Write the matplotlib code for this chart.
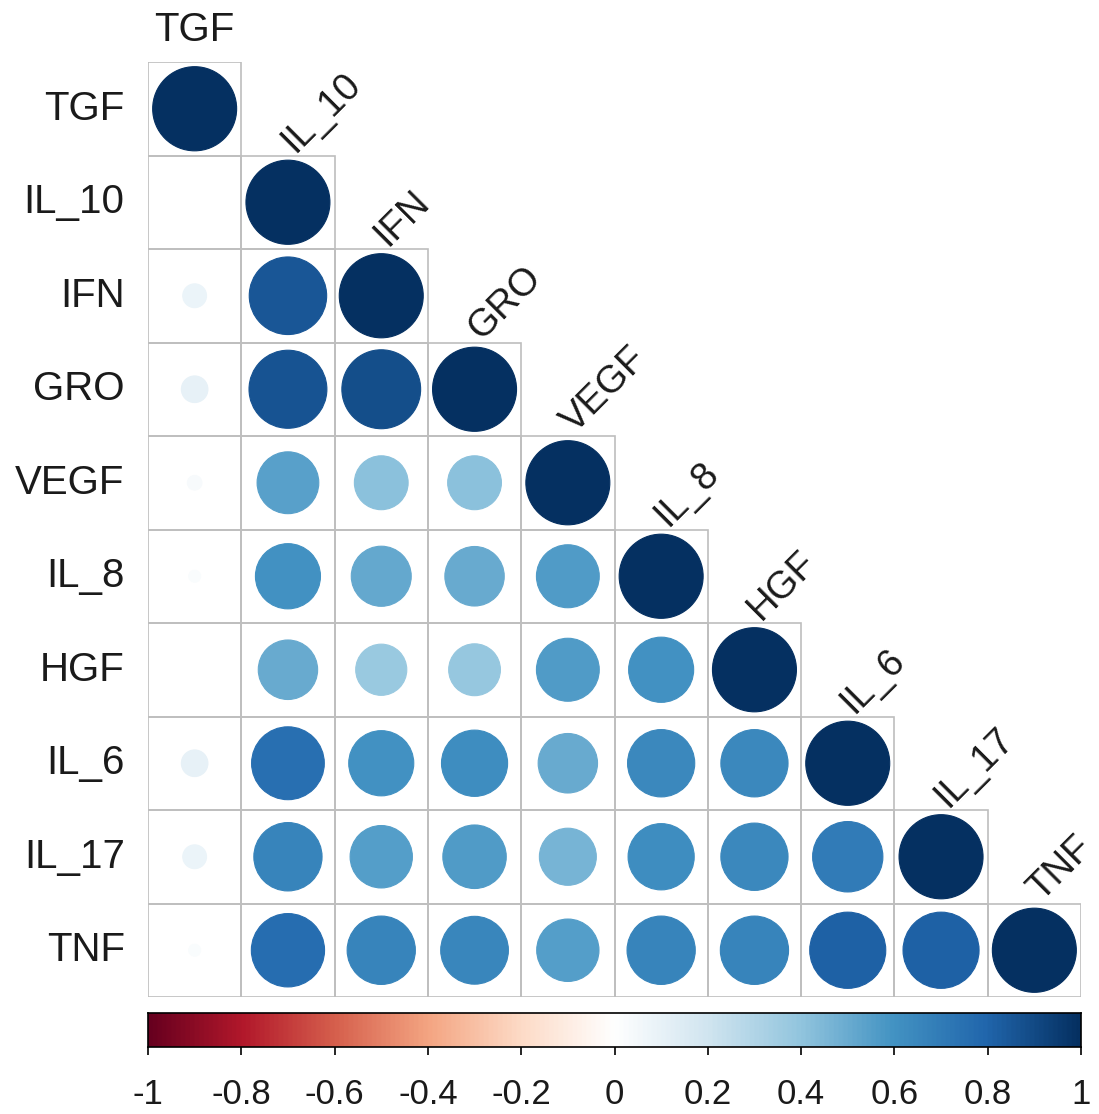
import numpy as np
import matplotlib
matplotlib.use("Agg")
import matplotlib.pyplot as plt
from matplotlib.colors import LinearSegmentedColormap
from matplotlib.patches import Ellipse, Rectangle

plt.rcParams['font.family'] = ['Liberation Sans', 'DejaVu Sans']

# Variables (same order for rows and columns)
names = ["TGF", "IL_10", "IFN", "GRO", "VEGF", "IL_8", "HGF", "IL_6", "IL_17", "TNF"]

# Lower-triangle correlation coefficients, row by row (diagonal included)
r_TGF   = [1.00]
r_IL_10 = [0.00, 1.00]
r_IFN   = [0.08, 0.85, 1.00]
r_GRO   = [0.10, 0.86, 0.88, 1.00]
r_VEGF  = [0.03, 0.54, 0.41, 0.41, 1.00]
r_IL_8  = [0.02, 0.60, 0.51, 0.50, 0.56, 1.00]
r_HGF   = [0.00, 0.50, 0.37, 0.38, 0.56, 0.60, 1.00]
r_IL_6  = [0.10, 0.75, 0.60, 0.62, 0.50, 0.64, 0.64, 1.00]
r_IL_17 = [0.08, 0.66, 0.55, 0.57, 0.46, 0.62, 0.64, 0.70, 1.00]
r_TNF   = [0.02, 0.76, 0.66, 0.65, 0.55, 0.66, 0.66, 0.82, 0.82, 1.00]
rows = [r_TGF, r_IL_10, r_IFN, r_GRO, r_VEGF, r_IL_8, r_HGF, r_IL_6, r_IL_17, r_TNF]

cbar_ticks = [-1, -0.8, -0.6, -0.4, -0.2, 0, 0.2, 0.4, 0.6, 0.8, 1]
cbar_labels = ["-1", "-0.8", "-0.6", "-0.4", "-0.2", "0", "0.2", "0.4", "0.6", "0.8", "1"]

# Diverging red-white-blue palette
rdbu = LinearSegmentedColormap.from_list(
    "rdbu_corr",
    ["#67001F", "#B2182B", "#D6604D", "#F4A582", "#FDDBC7", "#FFFFFF",
     "#D1E5F0", "#92C5DE", "#4393C3", "#2166AC", "#053061"], N=200)

W, H = 1099, 1114
fig = plt.figure(figsize=(W / 100, H / 100), dpi=100)
fig.patch.set_facecolor("white")

n = len(names)
gx0, gx1, gy0, gy1 = 148, 1081, 62, 997
ax = fig.add_axes([gx0 / W, 1 - gy1 / H, (gx1 - gx0) / W, (gy1 - gy0) / H])
ax.set_xlim(0, n)
ax.set_ylim(n, 0)
ax.axis("off")

grid_col = "#BEBEBE"
fs = 29
for i, vals in enumerate(rows):
    for j, r in enumerate(vals):
        ax.add_patch(Rectangle((j, i), 1, 1, facecolor="none",
                               edgecolor=grid_col, lw=1.2, zorder=1))
        rad = 0.45 * np.sqrt(abs(r))
        if rad > 0:
            c = rdbu((r + 1) / 2)
            ax.add_patch(Ellipse((j + 0.5, i + 0.5), 2 * rad, 2 * rad,
                                 facecolor=c, edgecolor=c, lw=0.8, zorder=2))

# Row labels
for i, nm in enumerate(names):
    ax.text(-0.25, i + 0.5, nm, ha="right", va="center", fontsize=fs,
            color="#1a1a1a", clip_on=False)

# Column labels
ax.text(0.5, -0.22, names[0], ha="center", va="baseline", fontsize=fs,
        color="#1a1a1a", clip_on=False)
for j in range(1, n):
    ax.text(j + 0.57, j - 0.02, names[j], ha="left", va="baseline",
            rotation=45, rotation_mode="anchor", fontsize=27.5,
            color="#1a1a1a", clip_on=False)

# Colour bar
cax = fig.add_axes([gx0 / W, 1 - 1047 / H, (gx1 - gx0) / W, 34 / H])
grad = np.linspace(-1, 1, 400).reshape(1, -1)
cax.imshow(grad, cmap=rdbu, vmin=-1, vmax=1, aspect="auto",
           extent=[-1, 1, 0, 1])
cax.set_xlim(-1, 1)
cax.set_yticks([])
cax.set_xticks(cbar_ticks)
cax.set_xticklabels(cbar_labels, fontsize=25, color="#1a1a1a")
cax.tick_params(axis="x", direction="out", length=6, width=1.2, pad=16,
                color="black")
for s in cax.spines.values():
    s.set_color("black")
    s.set_linewidth(1.2)

fig.savefig("out.png", dpi=100, facecolor="white")
